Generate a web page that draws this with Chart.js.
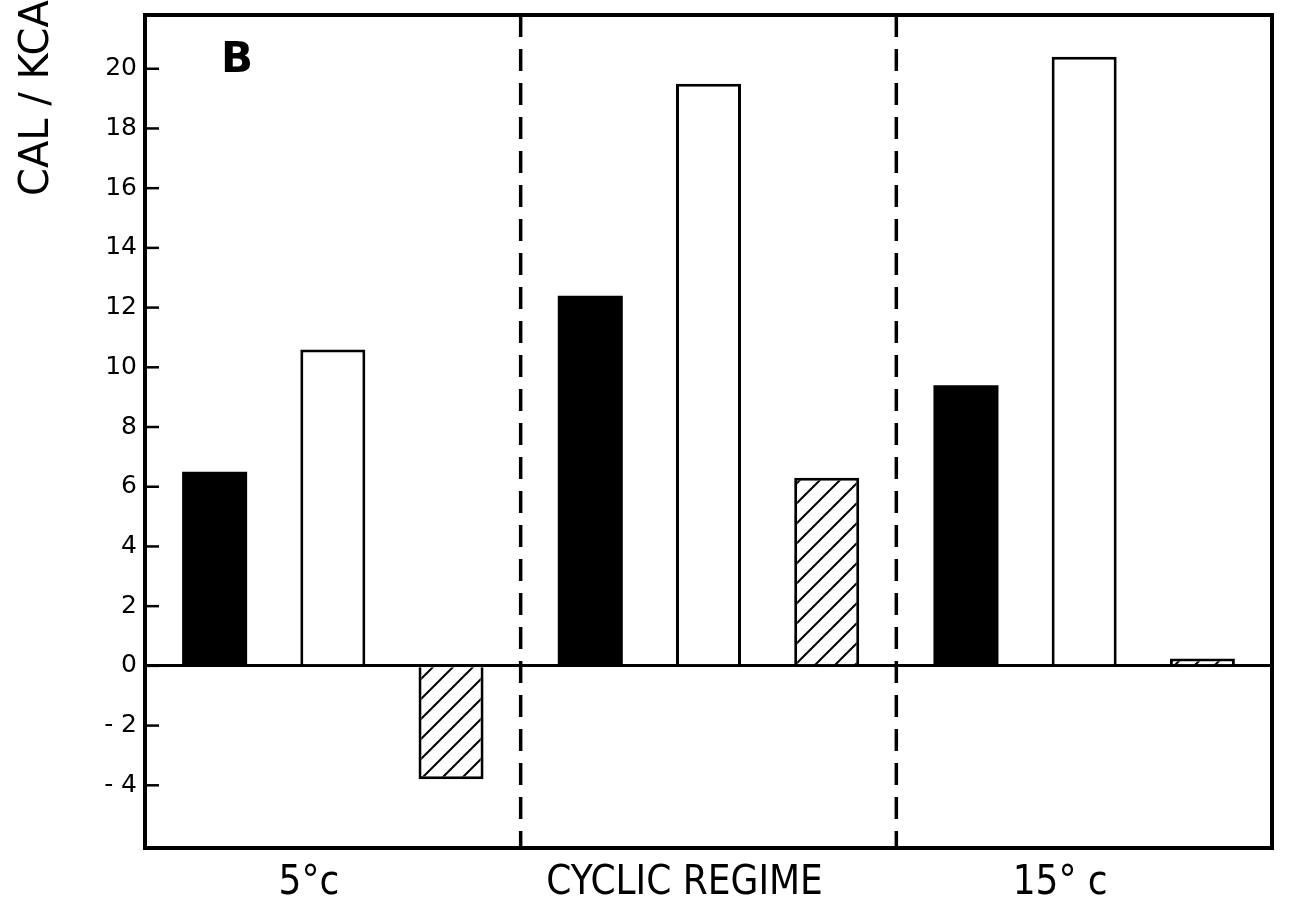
<!DOCTYPE html>
<html>
<head>
<meta charset="utf-8">
<script src="https://cdn.jsdelivr.net/npm/chart.js@4/dist/chart.umd.min.js"></script>
<style>
  html, body { margin: 0; padding: 0; background: #fff; }
</style>
</head>
<body>
<canvas id="chart" width="1292" height="923"></canvas>
<script>
// energy budget per regime, cal per kcal
const regimes = ["5°c", "CYCLIC REGIME", "15° c"]
const solidValues = [6.5, 12.4, 9.4]
const openValues = [10.6, 19.5, 20.4]
const hatchedValues = [-3.8, 6.3, 0.25]
const yTicks = [-4, -2, 0, 2, 4, 6, 8, 10, 12, 14, 16, 18, 20]
const yMin = -6.1
const yMax = 21.8
const panelLetter = "B"
const yTitle = "CAL / KCAL"

const INK = "#000"

function hatchPattern() {
  const tile = document.createElement("canvas")
  tile.width = 20
  tile.height = 20
  const c = tile.getContext("2d")
  c.fillStyle = "#fff"
  c.fillRect(0, 0, 20, 20)
  c.strokeStyle = INK
  c.lineWidth = 2
  c.beginPath()
  c.moveTo(-2, 22); c.lineTo(22, -2)
  c.moveTo(-12, 12); c.lineTo(12, -12)
  c.moveTo(8, 32); c.lineTo(32, 8)
  c.stroke()
  return c.createPattern(tile, "repeat")
}

// frame, inward ticks, dashed regime separators and the free-standing texts
const decorations = {
  id: "decorations",
  afterDatasetsDraw(chart) {
    const { ctx, chartArea: a, scales: { x, y } } = chart
    ctx.save()
    ctx.strokeStyle = INK
    ctx.lineWidth = 3.5
    ctx.setLineDash([22, 12])
    for (let i = 0; i < regimes.length - 1; i++) {
      const px = (x.getPixelForValue(i) + x.getPixelForValue(i + 1)) / 2
      ctx.beginPath()
      ctx.moveTo(px, a.top)
      ctx.lineTo(px, a.bottom)
      ctx.stroke()
    }
    ctx.setLineDash([])
    ctx.lineWidth = 2.5
    yTicks.forEach((v) => {
      const py = y.getPixelForValue(v)
      ctx.beginPath()
      ctx.moveTo(a.left, py)
      ctx.lineTo(a.left + 14, py)
      ctx.stroke()
    })
    ctx.lineWidth = 4
    ctx.strokeRect(a.left, a.top, a.right - a.left, a.bottom - a.top)
    ctx.restore()
  },
  afterDraw(chart) {
    const { ctx } = chart
    ctx.save()
    ctx.fillStyle = INK
    ctx.font = "bold 42px 'DejaVu Sans'"
    ctx.textBaseline = "alphabetic"
    ctx.fillText(panelLetter, 221, 72)
    ctx.translate(48, 196)
    ctx.rotate(-Math.PI / 2)
    ctx.font = "40px 'DejaVu Sans'"
    ctx.textAlign = "left"
    ctx.fillText(yTitle, 0, 0)
    ctx.restore()
  },
}

const hatch = hatchPattern()

new Chart(document.getElementById("chart"), {
  type: "bar",
  data: {
    labels: regimes,
    datasets: [
      { label: "solid", data: solidValues, backgroundColor: INK, borderWidth: 0 },
      { label: "open", data: openValues, backgroundColor: "#fff", borderColor: INK, borderWidth: 3 },
      { label: "hatched", data: hatchedValues, backgroundColor: hatch, borderColor: INK, borderWidth: 3 },
    ],
  },
  options: {
    responsive: false,
    animation: false,
    devicePixelRatio: 1,
    layout: { padding: { top: 15, right: 20, left: 0, bottom: 0 } },
    datasets: { bar: { categoryPercentage: 0.944, barPercentage: 0.55 } },
    plugins: { legend: { display: false }, tooltip: { enabled: false } },
    scales: {
      x: {
        grid: { display: false },
        border: { display: false },
        ticks: {
          color: INK,
          font: { family: "'Liberation Sans Narrow', 'DejaVu Sans Condensed', 'Liberation Sans'", size: 40 },
          labelOffset: -24,
          padding: 4,
          maxRotation: 0,
        },
        afterFit: (scale) => { scale.height = 75 },
      },
      y: {
        min: yMin,
        max: yMax,
        afterBuildTicks: (scale) => { scale.ticks = yTicks.map((value) => ({ value })) },
        grid: {
          drawTicks: false,
          color: (c) => (c.tick && c.tick.value === 0 ? INK : "rgba(0,0,0,0)"),
          lineWidth: 3,
        },
        border: { display: false },
        ticks: {
          color: INK,
          font: { family: "'DejaVu Sans'", size: 25 },
          padding: 8,
          callback: (v) => (v < 0 ? "- " + -v : String(v)),
        },
        afterFit: (scale) => {
          scale.width = 145
          scale.paddingTop = 0
          scale.paddingBottom = 0
        },
      },
    },
  },
  plugins: [decorations],
})
</script>
</body>
</html>
